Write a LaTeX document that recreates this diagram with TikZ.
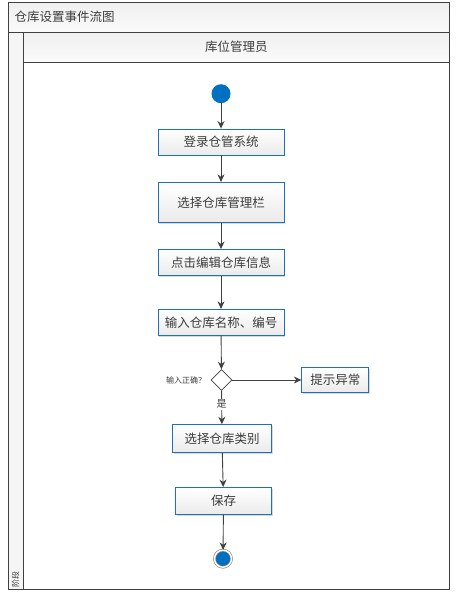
\documentclass[tikz,border=0pt]{standalone}
\usepackage{fontspec}
\setmainfont{Noto Sans CJK SC}
\usetikzlibrary{positioning,shapes.geometric,arrows.meta,shadows}
\definecolor{LaneGray}{RGB}{64,64,64}
\definecolor{BoxBlue}{RGB}{30,112,186}
\definecolor{DotBlue}{RGB}{0,112,192}
\definecolor{TextGray}{RGB}{60,60,60}

\begin{document}
\begin{tikzpicture}[
    x=1pt, y=-1pt,
    every node/.style={text=TextGray},
    box/.style={rectangle,draw=BoxBlue,line width=0.9pt,top color=white,bottom color=black!8,
        minimum width=126pt,minimum height=26pt,inner sep=0pt,font=\fontsize{12.5}{14}\selectfont,
        drop shadow={shadow xshift=1.2pt,shadow yshift=-1.2pt,fill=black!15,opacity=1}},
    decision/.style={diamond,draw=LaneGray,fill=white,line width=0.8pt,minimum width=21pt,minimum height=21pt,inner sep=0pt},
    startdot/.style={circle,fill=DotBlue,minimum size=19pt,inner sep=0pt},
    enddot/.style={circle,fill=DotBlue,draw=gray,double=white,double distance=1.5pt,line width=0.6pt,minimum size=17pt,inner sep=0pt},
    small/.style={font=\fontsize{8}{9}\selectfont},
    arrow/.style={draw=LaneGray,line width=0.9pt,-{Stealth[length=7.5pt,width=7pt]}}
]
\useasboundingbox (0,0) rectangle (460,598);

% swimlane frame
\fill[top color=black!6,bottom color=black!2] (8,2.7) rectangle (449.7,32);
\fill[top color=black!6,bottom color=black!2] (23,32) rectangle (449.7,62);
\fill[black!4] (8,32) rectangle (23,589);
\draw[LaneGray,line width=1pt] (8,2.7) rectangle (449.7,589);
\draw[LaneGray,line width=1pt] (8,32) -- (449.7,32);
\draw[LaneGray,line width=1pt] (23,32) -- (23,589);
\draw[LaneGray,line width=1pt] (23,62) -- (449.7,62);

\node[anchor=west,font=\fontsize{12.5}{14}\selectfont] (title) at (11,17) {仓库设置事件流图};
\node[font=\fontsize{12.5}{14}\selectfont] (lane) at (236.3,47) {库位管理员};
\node[small,rotate=90] (phase) at (15.5,579) {阶段};

% activities
\node[startdot] (start) at (221,93.7) {};
\node[box] (login) at (221,142) {登录仓管系统};
\node[box,minimum height=40pt] (choose) at (221,202.3) {选择仓库管理栏};
\node[box] (edit) at (221,262.5) {点击编辑仓库信息};
\node[box] (input) at (221,322.3) {输入仓库名称、编号};
\node[decision] (check) at (221.5,380) {};
\node[small,left=1pt of check] (checklbl) {输入正确？};
\node[box,minimum width=67pt,minimum height=25pt] (alert) at (335.3,380) {提示异常};
\node[box,minimum width=99pt,minimum height=28pt] (type) at (222,438.7) {选择仓库类别};
\node[box,minimum width=96pt,minimum height=27pt] (save) at (223.5,501) {保存};
\node[enddot] (finish) at (223,558.7) {};

\draw[arrow] (start) -- (login);
\draw[arrow] (login) -- (choose);
\draw[arrow] (choose) -- (edit);
\draw[arrow] (edit) -- (input);
\draw[arrow] (input) -- (check);
\draw[arrow] (check) -- (alert);
\draw[arrow] (check) -- node[pos=0.4,fill=white,inner sep=1pt,font=\fontsize{10}{12}\selectfont] (yes) {是} (type);
\draw[arrow] (type) -- (save);
\draw[arrow] (save) -- (finish);
\end{tikzpicture}
\end{document}
